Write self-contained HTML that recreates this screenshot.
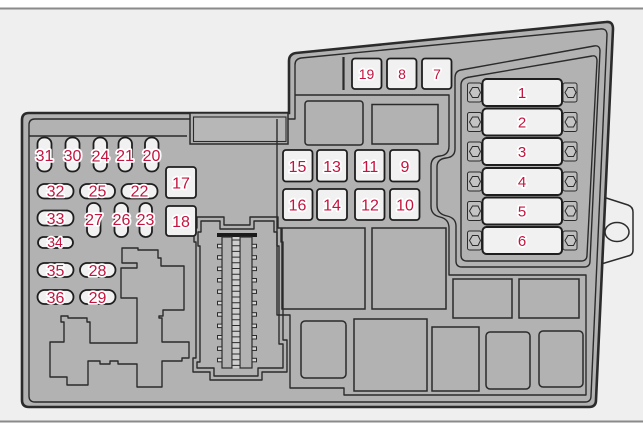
<!DOCTYPE html>
<html><head><meta charset="utf-8"><style>
html,body{margin:0;padding:0;background:#fff;}
svg{display:block;}
.l{font-family:"Liberation Sans",Arial,sans-serif;fill:#c3143f;stroke:#fff;stroke-width:3.5px;paint-order:stroke;stroke-linejoin:round;text-anchor:middle;}
.s{font-size:16px;}
.m{font-size:16px;}
.t{font-size:14px;}
.f{font-size:15px;}
.ln{fill:none;stroke:#2b2b2b;stroke-width:1.4;stroke-linejoin:round;}
.fz{fill:#f1f1f1;stroke:#1e1e1e;stroke-width:1.8;}
.rc{fill:#b2b2b2;stroke:#2b2b2b;stroke-width:1.5;}
</style></head><body>
<svg width="643" height="435" viewBox="0 0 643 435" xmlns="http://www.w3.org/2000/svg">
<rect x="0" y="0" width="643" height="435" fill="#ffffff"/>
<rect x="0" y="8.5" width="643" height="413" fill="#efefef"/>
<rect x="0" y="7.5" width="643" height="2" fill="#8a8a8a"/>
<rect x="0" y="420.5" width="643" height="2" fill="#8a8a8a"/>

<!-- mounting tab -->
<path d="M600,196 L628,205 Q633,207 633,212 V250 Q633,255 628,256 L598,265 Z" fill="#efefef" stroke="#2b2b2b" stroke-width="1.5"/>
<ellipse cx="617" cy="232" rx="12" ry="9.5" fill="#efefef" stroke="#2b2b2b" stroke-width="1.5"/>

<!-- housing -->
<path d="M22,120 Q22,113 29,113 H289 V61 Q289,54 296,53 L606,22 Q613,21 613,29 L596,400 Q596,407 589,407 H29 Q22,407 22,400 Z" fill="#b2b2b2" stroke="#2b2b2b" stroke-width="2.6"/>
<path class="ln" d="M190,119 H35 Q29,119 29,125 V396 Q29,402 35,402 H585 Q591,402 591,396 L607,35 Q607,28 600,29 L301,58 Q295,59 295,65 V119 H277"/>
<path class="ln" d="M29,136 H187"/>

<!-- connector slot -->
<rect x="190" y="113" width="98" height="31" fill="#b2b2b2" stroke="#2b2b2b" stroke-width="1.5"/>
<rect x="193.5" y="117" width="92.5" height="24.5" fill="#b7b7b7" stroke="#2b2b2b" stroke-width="1.1"/>

<!-- region boundary -->
<path class="ln" d="M277,119 V315 H290 V388 H344 V395 H586 V275 H449 V228 Q449,219 440,217 Q431,215 431,206 V166 Q431,157 440,156 Q449,155 449,146 V95 H295"/>
<path d="M343.5,57 V90" stroke="#2b2b2b" stroke-width="2.2"/>

<!-- fuse enclosure double lines -->
<path class="ln" d="M461,70 L594,46 Q600,45 600,51 L590,261 Q590,267 584,267 H462 Q456,267 456,261 V226 Q456,218 447,216 Q437,214 437,205 V167 Q437,159 446,158 Q455,157 455,149 V78 Q455,71 461,70 Z"/>
<path class="ln" d="M470,77 L592,56 Q597,55 597,61 L587,255 Q587,261 581,261 H467 Q461,261 461,255 V85 Q461,78 470,77 Z"/>

<!-- grey rects -->
<rect class="rc" x="305" y="101" width="58" height="44" rx="3"/>
<rect class="rc" x="372" y="104.5" width="66" height="39.5"/>
<rect class="rc" x="282" y="228" width="83" height="81"/>
<rect class="rc" x="372" y="228" width="74" height="81"/>
<rect class="rc" x="453" y="279" width="59" height="39"/>
<rect class="rc" x="519" y="279" width="60" height="39"/>
<rect class="rc" x="301" y="321" width="45" height="57" rx="4"/>
<rect class="rc" x="354" y="319" width="73" height="72"/>
<rect class="rc" x="432" y="327" width="47" height="64"/>
<rect class="rc" x="486" y="332" width="44" height="57" rx="4"/>
<rect class="rc" x="539" y="331" width="44" height="56" rx="4"/>

<!-- lower-left outline shape -->
<polygon class="ln" points="122,248 138,248 138,250 158,250 158,258 161,258 161,266 184,266 184,310 163,310 163,316 159,316 159,318 162,318 162,342 189,342 189,358 182,358 182,361 162,361 162,387 137,387 137,364 118,364 118,361 110,361 110,364 100,364 100,361 88,361 88,385 67,385 67,377 50,377 50,342 64,342 64,322 61,322 61,316 68,316 68,318 87,318 87,322 90,322 90,343 137,343 137,298 121,298 121,268 137,268 137,263 122,263"/>

<!-- connector -->
<path class="ln" d="M197,217 H224 V225 H250 V217 H278 V228 H281 V242 H283 V340 H287 V372 H262 V380 H210 V372 H193 V358 H196 V242 H194 V228 H197 Z"/>
<path class="ln" d="M201,221 H220 V229 H254 V221 H274 V232 H277 V246 H279 V344 H283 V368 H258 V376 H214 V368 H197 V362 H200 V246 H198 V232 H201 Z"/>
<rect x="217" y="233" width="40" height="4" fill="#1a1a1a"/>
<rect x="222" y="237" width="10" height="131" fill="#b2b2b2" stroke="#2b2b2b" stroke-width="1.2"/>
<rect x="240" y="237" width="12" height="131" fill="#b2b2b2" stroke="#2b2b2b" stroke-width="1.2"/>
<rect x="232.5" y="237" width="7" height="131" fill="#cfcfcf" stroke="none"/>
<g stroke="#2b2b2b" stroke-width="1" fill="none">
<path d="M232,240 H240 M232,245.7 H240 M232,251.4 H240 M232,257.1 H240 M232,262.8 H240 M232,268.5 H240 M232,274.2 H240 M232,279.9 H240 M232,285.6 H240 M232,291.3 H240 M232,297 H240 M232,302.7 H240 M232,308.4 H240 M232,314.1 H240 M232,319.8 H240 M232,325.5 H240 M232,331.2 H240 M232,336.9 H240 M232,342.6 H240 M232,348.3 H240 M232,354 H240 M232,359.7 H240 M232,365.4 H240"/>
</g>
<g fill="#d8d8d8" stroke="#2b2b2b" stroke-width="1">
<rect x="217.5" y="244.3" width="4.5" height="3.5"/><rect x="217.5" y="255.7" width="4.5" height="3.5"/><rect x="217.5" y="267.1" width="4.5" height="3.5"/><rect x="217.5" y="278.5" width="4.5" height="3.5"/><rect x="217.5" y="289.9" width="4.5" height="3.5"/><rect x="217.5" y="301.3" width="4.5" height="3.5"/><rect x="217.5" y="312.7" width="4.5" height="3.5"/><rect x="217.5" y="324.1" width="4.5" height="3.5"/><rect x="217.5" y="335.5" width="4.5" height="3.5"/><rect x="217.5" y="346.9" width="4.5" height="3.5"/><rect x="217.5" y="358.3" width="4.5" height="3.5"/>
<rect x="252" y="244.3" width="4.5" height="3.5"/><rect x="252" y="255.7" width="4.5" height="3.5"/><rect x="252" y="267.1" width="4.5" height="3.5"/><rect x="252" y="278.5" width="4.5" height="3.5"/><rect x="252" y="289.9" width="4.5" height="3.5"/><rect x="252" y="301.3" width="4.5" height="3.5"/><rect x="252" y="312.7" width="4.5" height="3.5"/><rect x="252" y="324.1" width="4.5" height="3.5"/><rect x="252" y="335.5" width="4.5" height="3.5"/><rect x="252" y="346.9" width="4.5" height="3.5"/><rect x="252" y="358.3" width="4.5" height="3.5"/>
</g>

<!-- small pill fuses -->
<g class="fz">
<rect x="37.5" y="137.5" width="14" height="34" rx="6.5"/>
<rect x="65.5" y="137.5" width="14" height="34" rx="6.5"/>
<rect x="93.5" y="137.5" width="13.5" height="34" rx="6.5"/>
<rect x="118.5" y="137.5" width="13.5" height="34" rx="6.5"/>
<rect x="145" y="137.5" width="13.5" height="34" rx="6.5"/>
<rect x="37.5" y="184" width="36" height="14.5" rx="7"/>
<rect x="80" y="184" width="35" height="14.5" rx="7"/>
<rect x="121.5" y="184" width="36" height="14.5" rx="7"/>
<rect x="37.5" y="210.5" width="36" height="15" rx="7"/>
<rect x="87" y="203" width="13.5" height="34" rx="6.5"/>
<rect x="114.5" y="203" width="13.5" height="34" rx="6.5"/>
<rect x="139.5" y="203" width="12.5" height="34" rx="6"/>
<rect x="38" y="237" width="35" height="11" rx="5.5"/>
<rect x="37.5" y="263" width="36" height="14" rx="7"/>
<rect x="80" y="263" width="35.5" height="14" rx="7"/>
<rect x="37.5" y="290" width="36" height="14" rx="7"/>
<rect x="80" y="290" width="35.5" height="14" rx="7"/>
</g>

<!-- square fuses -->
<g class="fz">
<rect x="166" y="167" width="30" height="31" rx="3"/>
<rect x="166" y="206" width="30" height="30" rx="3"/>
<rect x="283" y="150" width="29.5" height="31.5" rx="3"/>
<rect x="317" y="150" width="30" height="31.5" rx="3"/>
<rect x="355" y="150" width="29.5" height="31.5" rx="3"/>
<rect x="390" y="150" width="29.5" height="31.5" rx="3"/>
<rect x="283" y="189" width="29.5" height="31" rx="3"/>
<rect x="317" y="189" width="30" height="31" rx="3"/>
<rect x="355" y="189" width="29.5" height="31" rx="3"/>
<rect x="390" y="189" width="29.5" height="31" rx="3"/>
<rect x="352" y="58.5" width="29.5" height="30.5" rx="3"/>
<rect x="387" y="58.5" width="29.5" height="30.5" rx="3"/>
<rect x="422" y="58.5" width="29.5" height="30.5" rx="3"/>
</g>

<!-- nuts -->
<g fill="#bdbdbd" stroke="#2b2b2b" stroke-width="1">
<rect x="467.5" y="83" width="14" height="19" rx="2"/><rect x="563" y="83" width="14" height="19" rx="2"/>
<rect x="467.5" y="112.5" width="14" height="19" rx="2"/><rect x="563" y="112.5" width="14" height="19" rx="2"/>
<rect x="467.5" y="142" width="14" height="19" rx="2"/><rect x="563" y="142" width="14" height="19" rx="2"/>
<rect x="467.5" y="172" width="14" height="19" rx="2"/><rect x="563" y="172" width="14" height="19" rx="2"/>
<rect x="467.5" y="201.5" width="14" height="19" rx="2"/><rect x="563" y="201.5" width="14" height="19" rx="2"/>
<rect x="467.5" y="231" width="14" height="19" rx="2"/><rect x="563" y="231" width="14" height="19" rx="2"/>
</g>
<g fill="#c4c4c4" stroke="#2b2b2b" stroke-width="1">
<polygon points="469.5,92.5 472.5,87.5 478,87.5 480.5,92.5 478,97.5 472.5,97.5"/>
<polygon points="565,92.5 568,87.5 573.5,87.5 576,92.5 573.5,97.5 568,97.5"/>
<polygon points="469.5,122 472.5,117 478,117 480.5,122 478,127 472.5,127"/>
<polygon points="565,122 568,117 573.5,117 576,122 573.5,127 568,127"/>
<polygon points="469.5,151.5 472.5,146.5 478,146.5 480.5,151.5 478,156.5 472.5,156.5"/>
<polygon points="565,151.5 568,146.5 573.5,146.5 576,151.5 573.5,156.5 568,156.5"/>
<polygon points="469.5,181.5 472.5,176.5 478,176.5 480.5,181.5 478,186.5 472.5,186.5"/>
<polygon points="565,181.5 568,176.5 573.5,176.5 576,181.5 573.5,186.5 568,186.5"/>
<polygon points="469.5,211 472.5,206 478,206 480.5,211 478,216 472.5,216"/>
<polygon points="565,211 568,206 573.5,206 576,211 573.5,216 568,216"/>
<polygon points="469.5,240.5 472.5,235.5 478,235.5 480.5,240.5 478,245.5 472.5,245.5"/>
<polygon points="565,240.5 568,235.5 573.5,235.5 576,240.5 573.5,245.5 568,245.5"/>
</g>

<!-- big fuses 1-6 -->
<g fill="#f1f1f1" stroke="#1e1e1e" stroke-width="2">
<rect x="482.5" y="79" width="79.5" height="27" rx="4"/>
<rect x="482.5" y="108.5" width="79.5" height="27" rx="4"/>
<rect x="482.5" y="138" width="79.5" height="27" rx="4"/>
<rect x="482.5" y="168" width="79.5" height="27" rx="4"/>
<rect x="482.5" y="197.5" width="79.5" height="27" rx="4"/>
<rect x="482.5" y="227" width="79.5" height="27" rx="4"/>
</g>

<!-- labels -->
<g class="l s">
<text x="44.5" y="161">31</text>
<text x="72.5" y="161">30</text>
<text x="100.5" y="161.5">24</text>
<text x="125" y="161">21</text>
<text x="151.5" y="161">20</text>
<text x="55.5" y="196.5">32</text>
<text x="97.5" y="196.5">25</text>
<text x="139.5" y="196.5">22</text>
<text x="55.5" y="224">33</text>
<text x="94" y="225">27</text>
<text x="121.5" y="225">26</text>
<text x="145.5" y="225">23</text>
<text x="55.5" y="276">35</text>
<text x="97.5" y="276">28</text>
<text x="55.5" y="303">36</text>
<text x="97.5" y="303">29</text>
</g>
<text class="l t" x="55" y="247">34</text>
<g class="l m">
<text x="181" y="188.5">17</text>
<text x="181" y="227">18</text>
<text x="297.5" y="172">15</text>
<text x="332" y="172">13</text>
<text x="370" y="172">11</text>
<text x="405" y="172">9</text>
<text x="297.5" y="210.5">16</text>
<text x="332" y="210.5">14</text>
<text x="370" y="210.5">12</text>
<text x="405" y="210.5">10</text>
</g>
<g class="l t">
<text x="366.5" y="79">19</text>
<text x="402" y="79">8</text>
<text x="437" y="79">7</text>
</g>
<g class="l f">
<text x="522" y="98">1</text>
<text x="522" y="127.5">2</text>
<text x="522" y="157">3</text>
<text x="522" y="187">4</text>
<text x="522" y="216.5">5</text>
<text x="522" y="246">6</text>
</g>
</svg>
</body></html>
